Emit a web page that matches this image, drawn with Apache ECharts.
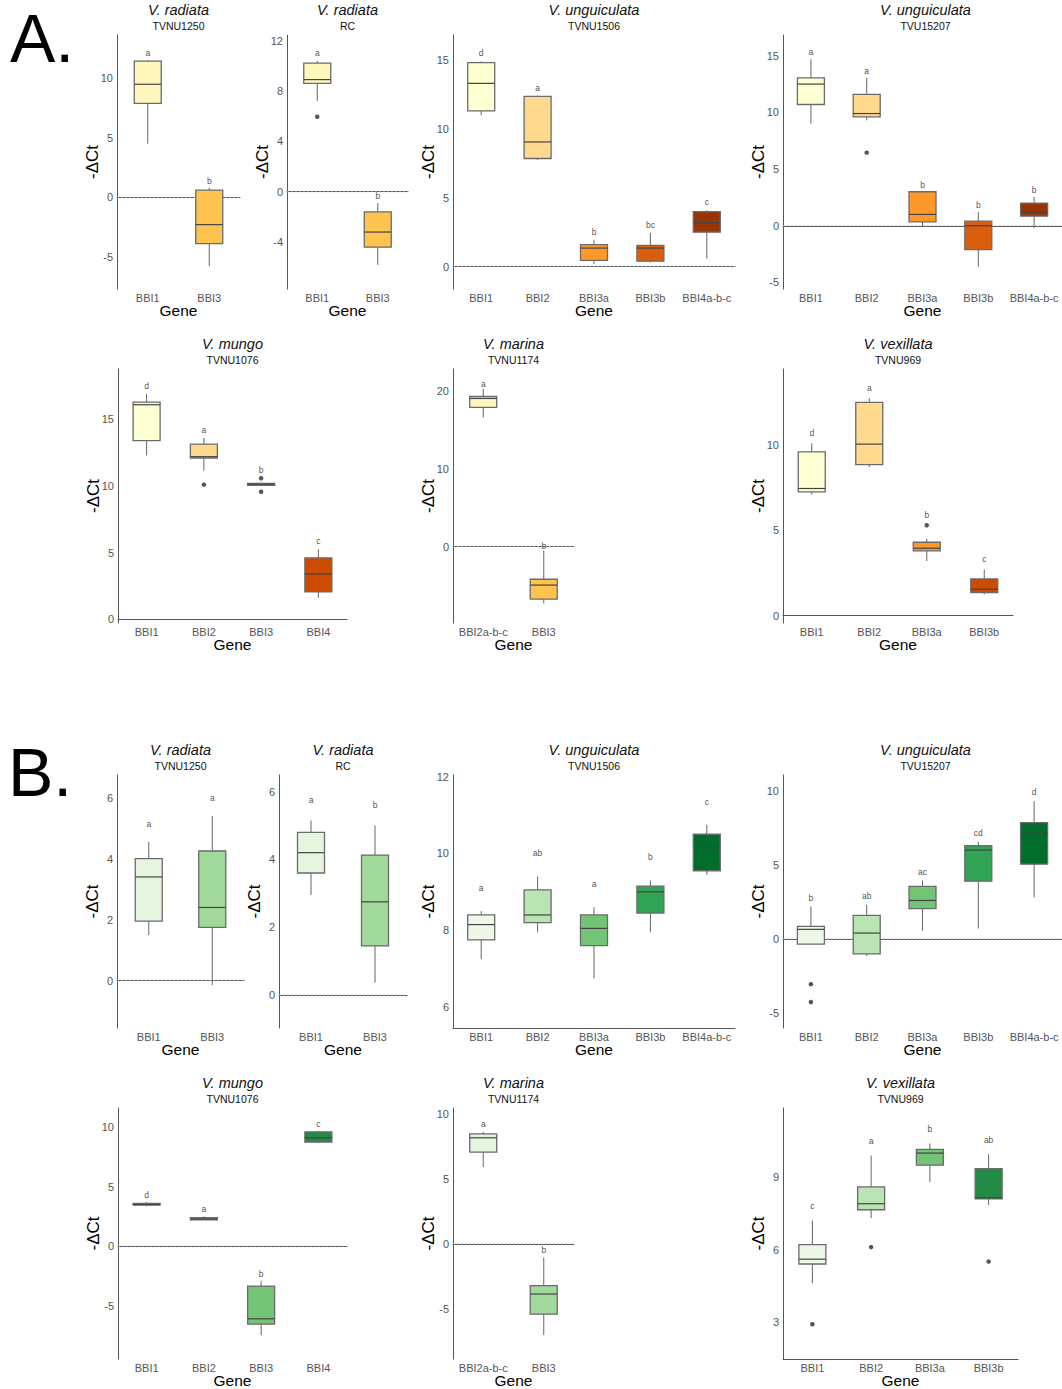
<!DOCTYPE html>
<html>
<head>
<meta charset="utf-8">
<script src="https://cdn.jsdelivr.net/npm/echarts@6/dist/echarts.min.js"></script>
<style>
  html, body { margin: 0; padding: 0; background: #fff; }
  #main { width: 1062px; height: 1389px; }
</style>
</head>
<body>
<div id="main"></div>
<script>
// box stats are [lower whisker, Q1, median, Q3, upper whisker]

// A. V. radiata TVNU1250
const genesA1 = ['BBI1', 'BBI3'];
const boxesA1 = [[4.5, 7.9, 9.5, 11.45, 11.55], [-5.8, -3.9, -2.3, 0.6, 0.8]];
const outliersA1 = [[], []];
const lettersA1 = ['a', 'b'];
const ticksA1 = [-5, 0, 5, 10];

// A. V. radiata RC
const genesA2 = ['BBI1', 'BBI3'];
const boxesA2 = [[7.2, 8.6, 8.9, 10.2, 10.4], [-5.8, -4.4, -3.2, -1.6, -0.9]];
const outliersA2 = [[5.95], []];
const lettersA2 = ['a', 'b'];
const ticksA2 = [-4, 0, 4, 8, 12];

// A. V. unguiculata TVNU1506
const genesA3 = ['BBI1', 'BBI2', 'BBI3a', 'BBI3b', 'BBI4a-b-c'];
const boxesA3 = [
  [11.0, 11.3, 13.3, 14.8, 14.9],
  [7.75, 7.85, 9.05, 12.35, 12.4],
  [0.2, 0.45, 1.35, 1.6, 1.95],
  [0.3, 0.4, 1.35, 1.55, 2.45],
  [0.6, 2.5, 3.2, 4.0, 4.1]
];
const outliersA3 = [[], [], [], [], []];
const lettersA3 = ['d', 'a', 'b', 'bc', 'c'];
const ticksA3 = [0, 5, 10, 15];

// A. V. unguiculata TVU15207
const genesA4 = ['BBI1', 'BBI2', 'BBI3a', 'BBI3b', 'BBI4a-b-c'];
const boxesA4 = [
  [9.0, 10.7, 12.5, 13.05, 14.7],
  [9.3, 9.6, 9.9, 11.6, 13.05],
  [-0.1, 0.35, 1.0, 3.0, 3.0],
  [-3.6, -2.1, 0.0, 0.4, 1.2],
  [-0.2, 0.85, 1.2, 2.0, 2.55]
];
const outliersA4 = [[], [6.45], [], [], []];
const lettersA4 = ['a', 'a', 'b', 'b', 'b'];
const ticksA4 = [-5, 0, 5, 10, 15];

// A. V. mungo TVNU1076
const genesA5 = ['BBI1', 'BBI2', 'BBI3', 'BBI4'];
const boxesA5 = [
  [12.3, 13.4, 16.1, 16.3, 16.9],
  [11.15, 12.1, 12.2, 13.15, 13.6],
  [10.0, 10.05, 10.13, 10.2, 10.25],
  [1.6, 2.05, 3.4, 4.6, 5.25]
];
const outliersA5 = [[], [10.1], [10.58, 9.57], []];
const lettersA5 = ['d', 'a', 'b', 'c'];
const ticksA5 = [0, 5, 10, 15];

// A. V. marina TVNU1174
const genesA6 = ['BBI2a-b-c', 'BBI3'];
const boxesA6 = [[16.6, 17.9, 19.05, 19.3, 20.3], [-7.3, -6.75, -4.95, -4.2, -0.5]];
const outliersA6 = [[], []];
const lettersA6 = ['a', 'b'];
const ticksA6 = [0, 10, 20];

// A. V. vexillata TVNU969
const genesA7 = ['BBI1', 'BBI2', 'BBI3a', 'BBI3b'];
const boxesA7 = [
  [7.1, 7.25, 7.45, 9.6, 10.1],
  [8.7, 8.85, 10.05, 12.5, 12.75],
  [3.2, 3.8, 3.95, 4.3, 4.5],
  [1.25, 1.35, 1.55, 2.15, 2.7]
];
const outliersA7 = [[], [], [5.3], []];
const lettersA7 = ['d', 'a', 'b', 'c'];
const ticksA7 = [0, 5, 10];

// B. V. radiata TVNU1250
const genesB1 = ['BBI1', 'BBI3'];
const boxesB1 = [[1.5, 1.95, 3.4, 4.0, 4.55], [-0.15, 1.75, 2.4, 4.25, 5.4]];
const outliersB1 = [[], []];
const lettersB1 = ['a', 'a'];
const ticksB1 = [0, 2, 4, 6];

// B. V. radiata RC
const genesB2 = ['BBI1', 'BBI3'];
const boxesB2 = [[2.95, 3.6, 4.2, 4.8, 5.15], [0.37, 1.45, 2.75, 4.13, 5.0]];
const outliersB2 = [[], []];
const lettersB2 = ['a', 'b'];
const ticksB2 = [0, 2, 4, 6];

// B. V. unguiculata TVNU1506
const genesB3 = ['BBI1', 'BBI2', 'BBI3a', 'BBI3b', 'BBI4a-b-c'];
const boxesB3 = [
  [7.25, 7.75, 8.15, 8.4, 8.5],
  [7.95, 8.2, 8.4, 9.05, 9.4],
  [6.75, 7.6, 8.05, 8.4, 8.6],
  [7.95, 8.45, 9.0, 9.15, 9.3],
  [9.45, 9.55, 10.15, 10.5, 10.75]
];
const outliersB3 = [[], [], [], [], []];
const lettersB3 = ['a', 'ab', 'a', 'b', 'c'];
const ticksB3 = [6, 8, 10, 12];

// B. V. unguiculata TVU15207
const genesB4 = ['BBI1', 'BBI2', 'BBI3a', 'BBI3b', 'BBI4a-b-c'];
const boxesB4 = [
  [-0.35, -0.35, 0.65, 0.85, 2.2],
  [-1.15, -1.0, 0.4, 1.6, 2.3],
  [0.55, 2.05, 2.6, 3.55, 3.95],
  [0.7, 3.9, 6.0, 6.3, 6.55],
  [2.8, 5.05, 7.15, 7.85, 9.3]
];
const outliersB4 = [[-3.05, -4.25], [], [], [], []];
const lettersB4 = ['b', 'ab', 'ac', 'cd', 'd'];
const ticksB4 = [-5, 0, 5, 10];

// B. V. mungo TVNU1076
const genesB5 = ['BBI1', 'BBI2', 'BBI3', 'BBI4'];
const boxesB5 = [
  [3.35, 3.45, 3.5, 3.6, 3.7],
  [2.2, 2.22, 2.3, 2.4, 2.5],
  [-7.5, -6.55, -6.1, -3.35, -2.9],
  [8.65, 8.75, 9.1, 9.6, 9.7]
];
const outliersB5 = [[], [], [], []];
const lettersB5 = ['d', 'a', 'b', 'c'];
const ticksB5 = [-5, 0, 5, 10];

// B. V. marina TVNU1174
const genesB6 = ['BBI2a-b-c', 'BBI3'];
const boxesB6 = [[5.9, 7.05, 8.15, 8.45, 8.6], [-7.0, -5.4, -3.85, -3.2, -1.05]];
const outliersB6 = [[], []];
const lettersB6 = ['a', 'b'];
const ticksB6 = [-5, 0, 5, 10];

// B. V. vexillata TVNU969
const genesB7 = ['BBI1', 'BBI2', 'BBI3a', 'BBI3b'];
const boxesB7 = [
  [4.6, 5.4, 5.6, 6.2, 7.2],
  [7.3, 7.65, 7.9, 8.6, 9.9],
  [8.8, 9.5, 10.0, 10.15, 10.4],
  [7.85, 8.1, 8.15, 9.35, 9.95]
];
const outliersB7 = [[2.9], [6.1], [], [5.5]];
const lettersB7 = ['c', 'a', 'b', 'ab'];
const ticksB7 = [3, 6, 9];

const species = ['V. radiata', 'V. radiata', 'V. unguiculata', 'V. unguiculata', 'V. mungo', 'V. marina', 'V. vexillata'];
const accessions = ['TVNU1250', 'RC', 'TVNU1506', 'TVU15207', 'TVNU1076', 'TVNU1174', 'TVNU969'];

// brewer palettes
const ylOrBr2 = ['#FFF7BC', '#FEC44F'];
const ylOrBr4 = ['#FFFFD4', '#FED98E', '#FE9929', '#CC4C02'];
const ylOrBr5 = ['#FFFFD4', '#FED98E', '#FE9929', '#D95F0E', '#993404'];
const greens2 = ['#E5F5E0', '#A1D99B'];
const greens4 = ['#EDF8E9', '#BAE4B3', '#74C476', '#238B45'];
const greens5 = ['#EDF8E9', '#BAE4B3', '#74C476', '#31A354', '#006D2C'];

const FONT = 'Liberation Sans';
const BOX_W = 27;
const LETTER_OFFSET = 0.6;

const panels = [
  { g: genesA1, b: boxesA1, o: outliersA1, l: lettersA1, t: ticksA1, s: 0, pal: ylOrBr2, left: 117, top: 35, w: 123, h: 254, min: -7.71, max: 13.64, zero: true },
  { g: genesA2, b: boxesA2, o: outliersA2, l: lettersA2, t: ticksA2, s: 1, pal: ylOrBr2, left: 287, top: 35, w: 121, h: 254, min: -7.72, max: 12.44, zero: true },
  { g: genesA3, b: boxesA3, o: outliersA3, l: lettersA3, t: ticksA3, s: 2, pal: ylOrBr5, left: 453, top: 35, w: 282, h: 254, min: -1.62, max: 16.81, zero: true },
  { g: genesA4, b: boxesA4, o: outliersA4, l: lettersA4, t: ticksA4, s: 3, pal: ylOrBr5, left: 783, top: 35, w: 285, h: 254, min: -5.58, max: 16.83, zero: true },
  { g: genesA5, b: boxesA5, o: outliersA5, l: lettersA5, t: ticksA5, s: 4, pal: ylOrBr4, left: 118, top: 369, w: 229, h: 254, min: -0.28, max: 18.78, zero: false },
  { g: genesA6, b: boxesA6, o: outliersA6, l: lettersA6, t: ticksA6, s: 5, pal: ylOrBr2, left: 453, top: 369, w: 121, h: 254, min: -9.83, max: 22.84, zero: true },
  { g: genesA7, b: boxesA7, o: outliersA7, l: lettersA7, t: ticksA7, s: 6, pal: ylOrBr4, left: 783, top: 369, w: 230, h: 254, min: -0.43, max: 14.45, zero: false },
  { g: genesB1, b: boxesB1, o: outliersB1, l: lettersB1, t: ticksB1, s: 0, pal: greens2, left: 117, top: 775, w: 127, h: 253, min: -1.55, max: 6.74, zero: true },
  { g: genesB2, b: boxesB2, o: outliersB2, l: lettersB2, t: ticksB2, s: 1, pal: greens2, left: 279, top: 775, w: 128, h: 253, min: -0.97, max: 6.49, zero: true },
  { g: genesB3, b: boxesB3, o: outliersB3, l: lettersB3, t: ticksB3, s: 2, pal: greens5, left: 453, top: 775, w: 282, h: 253, min: 5.46, max: 12.04, zero: false },
  { g: genesB4, b: boxesB4, o: outliersB4, l: lettersB4, t: ticksB4, s: 3, pal: greens5, left: 783, top: 775, w: 285, h: 253, min: -6.01, max: 11.07, zero: true },
  { g: genesB5, b: boxesB5, o: outliersB5, l: lettersB5, t: ticksB5, s: 4, pal: greens4, left: 118, top: 1108, w: 229, h: 253, min: -9.48, max: 11.61, zero: true },
  { g: genesB6, b: boxesB6, o: outliersB6, l: lettersB6, t: ticksB6, s: 5, pal: greens2, left: 453, top: 1108, w: 121, h: 253, min: -8.84, max: 10.44, zero: true },
  { g: genesB7, b: boxesB7, o: outliersB7, l: lettersB7, t: ticksB7, s: 6, pal: greens4, left: 783, top: 1108, w: 235, h: 253, min: 1.46, max: 11.87, zero: false }
];

function makeRender(pal, zero) {
  return function (params, api) {
    const k = api.value(0);
    const x = api.coord([k, 0])[0];
    const y = (d) => api.coord([k, api.value(d)])[1];
    const yMin = y(1), yQ1 = y(2), yMed = y(3), yQ3 = y(4), yMax = y(5);
    const half = BOX_W / 2;
    const line = { stroke: '#666', lineWidth: 1 };
    const children = [];
    // dotted reference line at 0, drawn once per panel
    if (zero && k === 0) {
      const cs = params.coordSys;
      const y0 = api.coord([0, 0])[1];
      children.push({
        type: 'line',
        z2: -1,
        shape: { x1: cs.x, y1: y0, x2: cs.x + cs.width, y2: y0 },
        style: { stroke: '#b5b5b5', lineWidth: 0.8, lineDash: [2, 2] }
      });
    }
    children.push(
      { type: 'line', shape: { x1: x, y1: yMax, x2: x, y2: yQ3 }, style: line },
      { type: 'line', shape: { x1: x, y1: yQ1, x2: x, y2: yMin }, style: line },
      { type: 'rect', shape: { x: x - half, y: yQ3, width: BOX_W, height: Math.max(yQ1 - yQ3, 1) },
        style: { fill: pal[k], stroke: '#6b6b6b', lineWidth: 1.3 } },
      { type: 'line', shape: { x1: x - half, y1: yMed, x2: x + half, y2: yMed },
        style: { stroke: '#444', lineWidth: 1.2 } }
    );
    return { type: 'group', children };
  };
}

const grid = [];
const xAxis = [];
const yAxis = [];
const series = [];
const graphic = [
  { type: 'text', left: 10, top: 4, style: { text: 'A.', font: '68px "' + FONT + '"', fill: '#000' } },
  { type: 'text', left: 8, top: 738, style: { text: 'B.', font: '68px "' + FONT + '"', fill: '#000' } }
];

panels.forEach((p, i) => {
  grid.push({ left: p.left, top: p.top, width: p.w, height: p.h });

  xAxis.push({
    type: 'category',
    gridIndex: i,
    data: p.g,
    name: 'Gene',
    nameLocation: 'middle',
    nameGap: 13,
    nameMoveOverlap: false,
    nameTextStyle: { fontFamily: FONT, fontSize: 15.5, color: '#000' },
    axisLine: { lineStyle: { color: '#555', width: 1 } },
    axisTick: { show: false },
    axisLabel: { fontFamily: FONT, fontSize: 11, color: '#555', margin: 3, interval: 0 }
  });

  yAxis.push({
    type: 'value',
    gridIndex: i,
    min: p.min,
    max: p.max,
    name: '-ΔCt',
    nameLocation: 'middle',
    nameGap: 16,
    nameRotate: 90,
    nameMoveOverlap: false,
    nameTextStyle: { fontFamily: FONT, fontSize: 17, color: '#000' },
    splitLine: { show: false },
    axisLine: { show: true, lineStyle: { color: '#555', width: 1 } },
    axisTick: { show: false },
    axisLabel: { customValues: p.t, fontFamily: FONT, fontSize: 11, color: '#555', margin: 4 }
  });

  series.push({
    type: 'custom',
    xAxisIndex: i,
    yAxisIndex: i,
    silent: true,
    renderItem: makeRender(p.pal, p.zero),
    encode: { x: 0, y: [1, 2, 3, 4, 5] },
    data: p.b.map((b, k) => [k].concat(b)),
    z: 3
  });

  const outs = [];
  p.o.forEach((vals, k) => vals.forEach((v) => outs.push([k, v])));
  series.push({
    type: 'scatter',
    xAxisIndex: i,
    yAxisIndex: i,
    silent: true,
    symbolSize: 4.5,
    itemStyle: { color: '#2b2b2b' },
    data: outs,
    z: 4
  });

  series.push({
    type: 'scatter',
    xAxisIndex: i,
    yAxisIndex: i,
    silent: true,
    symbolSize: 1,
    itemStyle: { color: 'rgba(0,0,0,0)' },
    label: {
      show: true,
      position: 'inside',
      formatter: '{b}',
      fontFamily: FONT,
      fontSize: 8.5,
      color: '#222'
    },
    data: p.b.map((b, k) => ({
      name: p.l[k],
      value: [k, Math.max(b[4], ...p.o[k]) + LETTER_OFFSET]
    })),
    z: 5
  });

  const cx = p.left + p.w / 2;
  graphic.push({
    type: 'text', x: cx, y: p.top - 25,
    style: { text: species[p.s], font: 'italic 14.5px "' + FONT + '"', fill: '#111', align: 'center', verticalAlign: 'middle' }
  });
  graphic.push({
    type: 'text', x: cx, y: p.top - 9,
    style: { text: accessions[p.s], font: '10.5px "' + FONT + '"', fill: '#111', align: 'center', verticalAlign: 'middle' }
  });
});

const chart = echarts.init(document.getElementById('main'), null, { renderer: 'svg' });
chart.setOption({
  animation: false,
  backgroundColor: '#fff',
  grid,
  xAxis,
  yAxis,
  series,
  graphic
});
</script>
</body>
</html>
